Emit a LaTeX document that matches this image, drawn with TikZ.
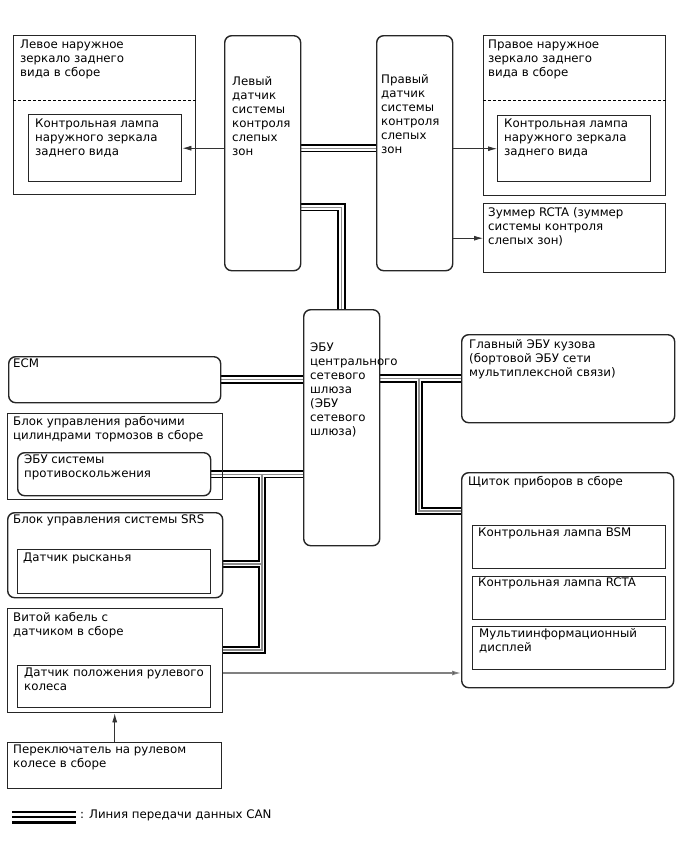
\documentclass[tikz,border=0pt]{standalone}
\usepackage{fontspec}
\setmainfont{DejaVu Sans}
\usetikzlibrary{arrows.meta,calc}
\pgfdeclarelayer{bg}
\pgfsetlayers{bg,main}
\newcommand{\dfont}{\fontsize{11.8}{14}\selectfont}

\begin{document}
\begin{tikzpicture}[x=1pt,y=-1pt,
  box/.style={draw=black!85,line width=1.4pt,anchor=north west,inner sep=0pt},
  rbox/.style={box,rounded corners=7pt},
  txt/.style={anchor=north west,inner sep=0pt,align=left,font=\dfont},
  sep/.style={line width=0.9pt,dash pattern=on 3pt off 2pt},
  arr/.style={-{Latex[length=9pt,width=5pt]},line width=0.8pt,draw=black!80},
  garr/.style={-{Latex[length=9pt,width=5pt,fill=black!80]},line width=1.2pt,draw=black!50}
]
\begin{pgfonlayer}{bg}
\path[fill=white] (0,0) rectangle (688,852);
\end{pgfonlayer}

% mirrors and blind spot sensors
\node[box,minimum width=182pt,minimum height=159pt] (lmir) at (13,35) {};
\node[box,minimum width=153pt,minimum height=67pt] (lmirl) at (28,114) {};
\node[rbox,minimum width=76pt,minimum height=235pt] (lsen) at (224,35) {};
\node[rbox,minimum width=76pt,minimum height=235pt] (rsen) at (376,35) {};
\node[box,minimum width=182pt,minimum height=160pt] (rmir) at (483,35) {};
\node[box,minimum width=153pt,minimum height=66pt] (rmirl) at (497,115) {};
\node[box,minimum width=182pt,minimum height=69pt] (buz) at (483,203) {};
\draw[sep] ($(lmir.north west)+(0,65)$) -- ($(lmir.north east)+(0,65)$);
\draw[sep] ($(rmir.north west)+(0,65)$) -- ($(rmir.north east)+(0,65)$);

% gateway and right side
\node[rbox,minimum width=76pt,minimum height=236pt] (gw) at (303,309) {};
\node[rbox,minimum width=212pt,minimum height=46pt] (ecm) at (8,356) {};
\node[rbox,minimum width=213pt,minimum height=88pt] (body) at (461,334) {};
\node[rbox,minimum width=212pt,minimum height=215pt] (meter) at (461,472) {};
\node[box,minimum width=193pt,minimum height=43pt] (bsm) at (472,525) {};
\node[box,minimum width=193pt,minimum height=43pt] (rcta) at (472,576) {};
\node[box,minimum width=193pt,minimum height=43pt] (multi) at (472,626) {};

% left side
\node[box,minimum width=215pt,minimum height=86pt] (brake) at (7,413) {};
\node[rbox,minimum width=193pt,minimum height=43pt] (abs) at (17,452) {};
\node[rbox,minimum width=215pt,minimum height=85pt] (srs) at (7,512) {};
\node[box,minimum width=193pt,minimum height=44pt] (yaw) at (17,549) {};
\node[box,minimum width=215pt,minimum height=104pt] (spr) at (7,608) {};
\node[box,minimum width=193pt,minimum height=42pt] (sas) at (17,665) {};
\node[box,minimum width=214pt,minimum height=46pt] (swt) at (7,742) {};

% texts
\node[txt] (lmir-t) at (20,40) {Левое наружное\\зеркало заднего\\вида в сборе};
\node[txt] (lmirl-t) at (35,119) {Контрольная лампа\\наружного зеркала\\заднего вида};
\node[txt] (lsen-t) at (232,76) {Левый\\датчик\\системы\\контроля\\слепых\\зон};
\node[txt] (rsen-t) at (381,74) {Правый\\датчик\\системы\\контроля\\слепых\\зон};
\node[txt] (rmir-t) at (488,40) {Правое наружное\\зеркало заднего\\вида в сборе};
\node[txt] (rmirl-t) at (504,119) {Контрольная лампа\\наружного зеркала\\заднего вида};
\node[txt] (buz-t) at (488,207) {Зуммер RCTA (зуммер\\системы контроля\\слепых зон)};
\node[txt] (gw-t) at (310,343) {ЭБУ\\центрального\\сетевого\\шлюза\\(ЭБУ\\сетевого\\шлюза)};
\node[txt] (ecm-t) at (13,359) {ECM};
\node[txt] (body-t) at (469,339) {Главный ЭБУ кузова\\(бортовой ЭБУ сети\\мультиплексной связи)};
\node[txt] (meter-t) at (468,476) {Щиток приборов в сборе};
\node[txt] (bsm-t) at (478,528) {Контрольная лампа BSM};
\node[txt] (rcta-t) at (478,578) {Контрольная лампа RCTA};
\node[txt] (multi-t) at (479,628) {Мультиинформационный\\дисплей};
\node[txt] (brake-t) at (13,416) {Блок управления рабочими\\цилиндрами тормозов в сборе};
\node[txt] (abs-t) at (24,455) {ЭБУ системы\\противоскольжения};
\node[txt] (srs-t) at (13,515) {Блок управления системы SRS};
\node[txt] (yaw-t) at (23,553) {Датчик рысканья};
\node[txt] (spr-t) at (13,612) {Витой кабель с\\датчиком в сборе};
\node[txt] (sas-t) at (24,668) {Датчик положения рулевого\\колеса};
\node[txt] (swt-t) at (13,745) {Переключатель на рулевом\\колесе в сборе};

% plain signal lines
\draw[arr] (lsen.west |- lmirl.east) -- (lmirl.east);
\draw[arr] (rsen.east |- rmirl.west) -- (rmirl.west);
\draw[arr] (rsen.east |- buz.west) -- (buz.west);
\draw[arr] (swt.north) -- (swt.north |- spr.south);
\draw[garr] ($(spr.north east)+(0,65)$) coordinate (s3) -- (meter.west |- s3);

% CAN bus
\coordinate (jr) at (419,378);
\coordinate (jl) at (262,474);
\begin{pgfonlayer}{bg}
\foreach \lw/\lc in {8.5pt/black, 4.6pt/white, 1.2pt/black!45} {
  \draw[line width=\lw,draw=\lc,line join=miter] (lsen.east |- lmirl.east) -- (rsen.west |- lmirl.east);
  \draw[line width=\lw,draw=\lc,line join=miter] ($(lsen.east)+(0,54)$) -| (gw.north);
  \draw[line width=\lw,draw=\lc,line join=miter] (ecm.east) -- (gw.west |- ecm.east);
  \draw[line width=\lw,draw=\lc,line join=miter] (gw.east |- body.west) -- (body.west);
  \draw[line width=\lw,draw=\lc,line join=miter] (jr) |- ($(meter.north west)+(0,39)$);
  \draw[line width=\lw,draw=\lc,line join=miter] (abs.east) -- (gw.west |- abs.east);
  \draw[line width=\lw,draw=\lc,line join=miter] (jl) |- ($(spr.north east)+(0,42)$);
  \draw[line width=\lw,draw=\lc,line join=miter] ($(srs.north east)+(0,52)$) coordinate (s2) -- (jl |- s2);
}
\end{pgfonlayer}

% legend
\coordinate (lg1) at (12,817);
\coordinate (lg2) at (76,817);
\draw[line width=13pt] (lg1) -- (lg2);
\draw[line width=7.5pt,white] (lg1) -- (lg2);
\draw[line width=2.5pt] (lg1) -- (lg2);
\node[txt,anchor=west] (lg-t) at (80,815) {: Линия передачи данных CAN};
\end{tikzpicture}
\end{document}
